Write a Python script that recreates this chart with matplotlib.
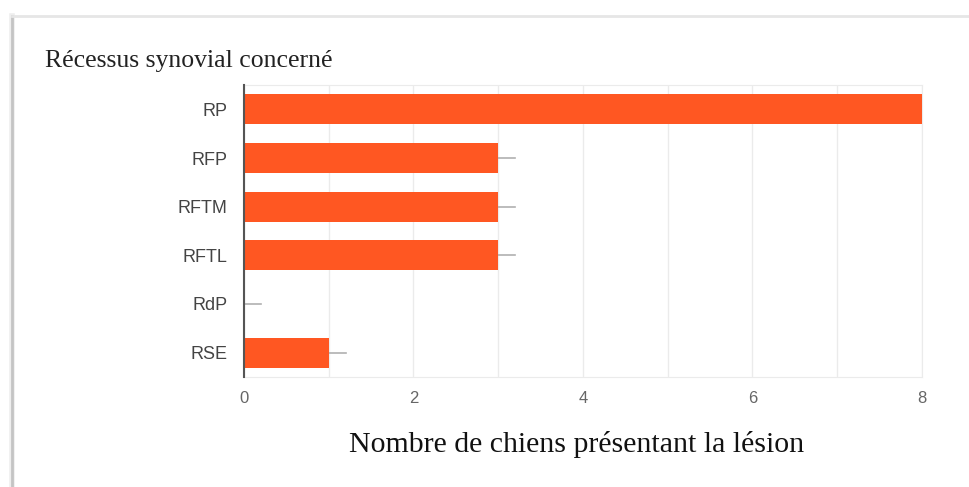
import numpy as np
import matplotlib.pyplot as plt
from matplotlib.lines import Line2D

categories = ["RP", "RFP", "RFTM", "RFTL", "RdP", "RSE"]
counts = [8, 3, 3, 3, 0, 1]
xticks = [0, 2, 4, 6, 8]

title = "Récessus synovial concerné"
xlabel = "Nombre de chiens présentant la lésion"

orange = "#ff5722"
grid = "#ebebeb"

fig = plt.figure(figsize=(9.7, 4.87), dpi=100)
fig.patch.set_facecolor("white")

# card outline (shadowed left/top edges)
for w, c in [(4, "#eeeeee"), (2, "#c4c4c4")]:
    fig.add_artist(Line2D([12/970, 12/970], [0, 1-16/487], color=c, lw=w, transform=fig.transFigure))
fig.add_artist(Line2D([12/970, 1], [1-16/487, 1-16/487], color="#e6e6e6", lw=2, transform=fig.transFigure))

ax = fig.add_axes([244/970, 1-377/487, 678/970, 292/487])
y = np.arange(len(categories))
ax.barh(y, counts, height=0.62, color=orange, zorder=3)
# little value lines after each bar
for yi, v in zip(y, counts):
    ax.plot([v, v + 0.2], [yi, yi], color="#b0b0b0", lw=1.2, zorder=2)

ax.set_xlim(0, 8)
ax.set_ylim(len(categories) - 0.5, -0.5)
ax.set_xticks(xticks)
ax.set_xticks(range(0, 9), minor=True)
ax.grid(axis="x", which="both", color=grid, lw=1, zorder=0)
ax.set_yticks(y)
ax.set_yticklabels(categories, fontsize=13, color="#444444", family="Liberation Sans")
ax.set_xticklabels([str(t) for t in xticks], fontsize=12, color="#666666", family="Liberation Sans")
ax.tick_params(axis="both", which="both", length=0)
ax.tick_params(axis="y", pad=12)
ax.tick_params(axis="x", pad=10)
for s in ["top", "right", "bottom"]:
    ax.spines[s].set_color(grid)
ax.spines["left"].set_color("#555555")
ax.spines["left"].set_linewidth(1.5)
ax.spines["left"].set_zorder(4)

fig.text(45/970, 1-67/487, title, fontsize=18.5, family="Liberation Serif", color="#222222", va="baseline")
fig.text(577/970, 1-445/487, xlabel, fontsize=21.5, family="Liberation Serif", color="#111111", ha="center", va="center")

fig.savefig("out.png", dpi=100)
